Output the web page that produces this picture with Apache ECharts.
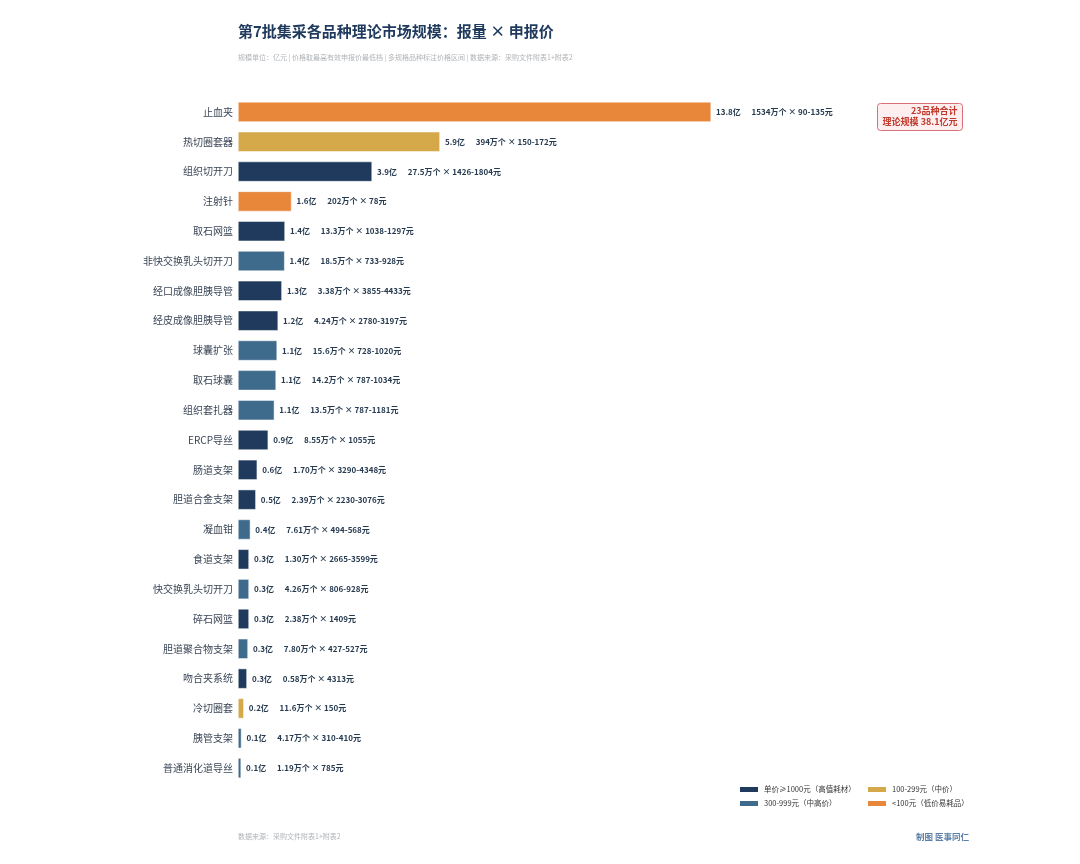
<!DOCTYPE html>
<html>
<head>
<meta charset="utf-8">
<script src="https://cdn.jsdelivr.net/npm/echarts@6/dist/echarts.min.js"></script>
<style>
  html, body { margin: 0; padding: 0; background: #fff; }
  #chart { width: 1080px; height: 864px; }
</style>
</head>
<body>
<div id="chart"></div>
<script>
// 品种（从上到下）
const categories = [
  '止血夹', '热切圈套器', '组织切开刀', '注射针', '取石网篮', '非快交换乳头切开刀',
  '经口成像胆胰导管', '经皮成像胆胰导管', '球囊扩张', '取石球囊', '组织套扎器', 'ERCP导丝',
  '肠道支架', '胆道合金支架', '凝血钳', '食道支架', '快交换乳头切开刀', '碎石网篮',
  '胆道聚合物支架', '吻合夹系统', '冷切圈套', '胰管支架', '普通消化道导丝'
];
// 理论规模（亿元），按条长估读
const marketSize = [
  13.8, 5.89, 3.91, 1.56, 1.37, 1.36,
  1.28, 1.17, 1.14, 1.11, 1.06, 0.88,
  0.56, 0.52, 0.36, 0.32, 0.32, 0.32,
  0.29, 0.26, 0.17, 0.1, 0.09
];
// 报量 × 申报价
const detailText = [
  '1534万个 × 90-135元', '394万个 × 150-172元', '27.5万个 × 1426-1804元', '202万个 × 78元',
  '13.3万个 × 1038-1297元', '18.5万个 × 733-928元', '3.38万个 × 3855-4433元', '4.24万个 × 2780-3197元',
  '15.6万个 × 728-1020元', '14.2万个 × 787-1034元', '13.5万个 × 787-1181元', '8.55万个 × 1055元',
  '1.70万个 × 3290-4348元', '2.39万个 × 2230-3076元', '7.61万个 × 494-568元', '1.30万个 × 2665-3599元',
  '4.26万个 × 806-928元', '2.38万个 × 1409元', '7.80万个 × 427-527元', '0.58万个 × 4313元',
  '11.6万个 × 150元', '4.17万个 × 310-410元', '1.19万个 × 785元'
];
// 价格档位：0 高值 1 中高价 2 中价 3 低价
const priceTier = [
  3, 2, 0, 3, 0, 1,
  0, 0, 1, 1, 1, 0,
  0, 0, 1, 0, 1, 0,
  1, 0, 2, 1, 1
];
const tierNames = ['单价≥1000元（高值耗材）', '300-999元（中高价）', '100-299元（中价）', '<100元（低价易耗品）'];
const tierColors = ['#1f3a5c', '#3e6a8c', '#d5a84a', '#e8863a'];

const totalText = ['23品种合计', '理论规模 38.1亿元'];

const chart = echarts.init(document.getElementById('chart'));

const series = tierNames.map((name, t) => ({
  name: name,
  type: 'bar',
  stack: 'total',
  barWidth: 20,
  itemStyle: { color: tierColors[t], borderColor: '#fff', borderWidth: 0.5 },
  data: marketSize.map((v, i) => (priceTier[i] === t ? v : '-')),
  label: {
    show: true,
    position: 'right',
    distance: 5,
    formatter: p => '{v|' + p.value.toFixed(1) + '亿}    {d|' + detailText[p.dataIndex] + '}',
    rich: {
      v: { fontSize: 8, fontWeight: 'bold', color: '#263a50', fontFamily: 'Noto Sans CJK SC' },
      d: { fontSize: 8, fontWeight: 'bold', color: '#263a50', fontFamily: 'Noto Sans CJK SC' }
    }
  }
}));

const legendBase = {
  orient: 'vertical',
  top: 785,
  padding: 0,
  itemWidth: 20,
  itemHeight: 7,
  itemGap: 5,
  icon: 'rect',
  textStyle: { fontSize: 7.5, color: '#333' }
};

const option = {
  backgroundColor: '#fff',
  animation: false,
  textStyle: { fontFamily: 'Noto Sans CJK SC' },
  title: [
    {
      text: '第7批集采各品种理论市场规模：报量 × 申报价',
      left: 238,
      top: 24,
      padding: 0,
      textStyle: { fontSize: 15, fontWeight: 'bold', color: '#1f3a5c' }
    },
    {
      text: '规模单位：亿元 | 价格取最高有效申报价最低档 | 多规格品种标注价格区间 | 数据来源：采购文件附表1+附表2',
      left: 238,
      top: 54,
      padding: 0,
      textStyle: { fontSize: 7, fontWeight: 'normal', color: '#b0b4b8' }
    },
    {
      text: '数据来源：采购文件附表1+附表2',
      left: 238,
      top: 833,
      padding: 0,
      textStyle: { fontSize: 7, fontWeight: 'normal', color: '#b0b4b8' }
    },
    {
      text: '制图 医事同仁',
      left: 916,
      top: 833,
      padding: 0,
      textStyle: { fontSize: 8.5, fontWeight: 'bold', color: '#5b7fa6' }
    }
  ],
  legend: [
    Object.assign({}, legendBase, { data: [tierNames[0], tierNames[1]], left: 738 }),
    Object.assign({}, legendBase, { data: [tierNames[2], tierNames[3]], left: 866 })
  ],
  grid: {
    left: 238,
    top: 97,
    width: 548.5,
    height: 686,
    containLabel: false
  },
  xAxis: {
    type: 'value',
    min: 0,
    max: 16,
    show: false
  },
  yAxis: {
    type: 'category',
    data: categories,
    inverse: true,
    axisLine: { show: false },
    axisTick: { show: false },
    axisLabel: { fontSize: 10, color: '#3a4656', margin: 5 }
  },
  graphic: [
    {
      type: 'group',
      left: 877,
      top: 103,
      children: [
        {
          type: 'rect',
          shape: { x: 0, y: 0, width: 85, height: 27, r: 3 },
          style: { fill: '#fdeef0', stroke: '#d9707a', lineWidth: 1 }
        },
        {
          type: 'text',
          style: {
            x: 80, y: 2,
            text: totalText.join('\n'),
            align: 'right',
            fontSize: 9,
            fontWeight: 'bold',
            lineHeight: 11,
            fill: '#c0392b',
            fontFamily: 'Noto Sans CJK SC'
          }
        }
      ]
    }
  ],
  series: series
};

chart.setOption(option);
</script>
</body>
</html>
